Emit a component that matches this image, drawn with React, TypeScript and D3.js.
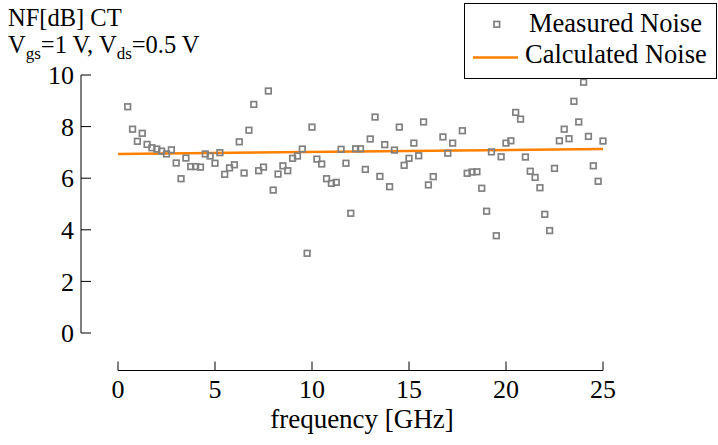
import * as d3 from "d3";

const frequency = [
  0.5, 0.75, 1.0, 1.25, 1.5, 1.75, 2.0, 2.25, 2.5, 2.75, 3.0, 3.25, 3.5, 3.75, 4.0, 4.25,
  4.5, 4.75, 5.0, 5.25, 5.5, 5.75, 6.0, 6.25, 6.5, 6.75, 7.0, 7.25, 7.5, 7.75, 8.0, 8.25,
  8.5, 8.75, 9.0, 9.25, 9.5, 9.75, 10.0, 10.25, 10.5, 10.75, 11.0, 11.25, 11.5, 11.75,
  12.0, 12.25, 12.5, 12.75, 13.0, 13.25, 13.5, 13.75, 14.0, 14.25, 14.5, 14.75, 15.0,
  15.25, 15.5, 15.75, 16.0, 16.25, 16.75, 17.0, 17.25, 17.75, 18.0, 18.25, 18.5, 18.75,
  19.0, 19.25, 19.5, 19.75, 20.0, 20.25, 20.5, 20.75, 21.0, 21.25, 21.5, 21.75, 22.0,
  22.25, 22.5, 22.75, 23.0, 23.25, 23.5, 23.75, 24.0, 24.25, 24.5, 24.75, 25.0,
];
const measuredNoise = [
  8.77, 7.9, 7.43, 7.74, 7.31, 7.18, 7.13, 7.05, 6.94, 7.1, 6.59, 5.98, 6.78, 6.45, 6.45, 6.43,
  6.94, 6.86, 6.58, 6.99, 6.15, 6.4, 6.52, 7.41, 6.2, 7.86, 8.86, 6.29, 6.43, 9.38, 5.54, 6.16,
  6.48, 6.29, 6.77, 6.86, 7.13, 3.09, 7.98, 6.74, 6.55, 5.98, 5.8, 5.84, 7.12, 6.58,
  4.64, 7.14, 7.14, 6.34, 7.52, 8.37, 6.07, 7.3, 5.67, 7.09, 7.98, 6.5, 6.77,
  7.36, 6.87, 8.18, 5.74, 6.06, 7.6, 6.97, 7.36, 7.84, 6.19, 6.24, 6.25, 5.61,
  4.72, 7.02, 3.77, 6.83, 7.36, 7.45, 8.55, 8.29, 6.82, 6.27, 6.03, 5.63, 4.6,
  3.97, 6.38, 7.45, 7.9, 7.53, 8.98, 8.18, 9.72, 7.62, 6.48, 5.88, 7.44,
];
const calcFrequency = [0, 25];
const calculatedNoise = [6.94, 7.13];

const xTicks = [0, 5, 10, 15, 20, 25];
const yTicks = [0, 2, 4, 6, 8, 10];

const FONT = "Liberation Serif";
const GRAY = "#808080";
const ORANGE = "#ff8000";

export default function App() {
  const x = d3.scaleLinear().domain([0, 25]).range([118, 603]);
  const y = d3.scaleLinear().domain([0, 10]).range([333, 75]);
  const yAxisX = 81;
  const xAxisY = 370.5;

  const points = frequency.map((f, i) => ({ f, v: measuredNoise[i] }));
  const calc = calcFrequency.map((f, i) => ({ f, v: calculatedNoise[i] }));
  const line = d3
    .line<{ f: number; v: number }>()
    .x((d) => x(d.f))
    .y((d) => y(d.v));

  return (
    <svg
      width={718}
      height={445}
      style={{ position: "absolute", left: 0, top: 0, background: "#fff", fontFamily: FONT }}
    >
      <rect width={718} height={445} fill="#fff" />

      {/* title */}
      <text x={8} y={26} fontSize={24.5}>NF[dB] CT</text>
      <text x={8} y={53} fontSize={24.5}>
        V<tspan fontSize={17} dy={6}>gs</tspan>
        <tspan dy={-6}>=1 V, V</tspan>
        <tspan fontSize={17} dy={6}>ds</tspan>
        <tspan dy={-6}>=0.5 V</tspan>
      </text>

      {/* y axis */}
      <g stroke="#000" strokeWidth={1}>
        <line x1={yAxisX} x2={yAxisX} y1={y(10)} y2={y(0)} />
        {yTicks.map((t) => (
          <line key={t} x1={yAxisX} x2={yAxisX + 10} y1={y(t)} y2={y(t)} />
        ))}
      </g>
      {yTicks.map((t) => (
        <text key={t} x={yAxisX - 7} y={y(t)} dy="0.35em" textAnchor="end" fontSize={26}>
          {t}
        </text>
      ))}

      {/* x axis */}
      <g stroke="#000" strokeWidth={1}>
        <line x1={x(0)} x2={x(25)} y1={xAxisY} y2={xAxisY} />
        {xTicks.map((t) => (
          <line key={t} x1={x(t)} x2={x(t)} y1={xAxisY} y2={xAxisY - 9} />
        ))}
      </g>
      {xTicks.map((t) => (
        <text key={t} x={x(t)} y={398} textAnchor="middle" fontSize={26}>
          {t}
        </text>
      ))}
      <text x={362} y={428} textAnchor="middle" fontSize={27}>
        frequency [GHz]
      </text>

      {/* calculated noise */}
      <path d={line(calc) ?? ""} fill="none" stroke={ORANGE} strokeWidth={2.4} />

      {/* measured noise */}
      {points.map((d, i) => (
        <rect
          key={i}
          x={x(d.f) - 2.8}
          y={y(d.v) - 2.8}
          width={5.6}
          height={5.6}
          fill="none"
          stroke={GRAY}
          strokeWidth={1.7}
        />
      ))}

      {/* legend */}
      <rect x={464.5} y={3.5} width={252} height={75} fill="#fff" stroke="#000" strokeWidth={1} />
      <rect x={494} y={21.5} width={5.6} height={5.6} fill="none" stroke={GRAY} strokeWidth={1.7} />
      <text x={529} y={32} fontSize={26.5}>Measured Noise</text>
      <line x1={473} x2={518} y1={57.5} y2={57.5} stroke={ORANGE} strokeWidth={2.4} />
      <text x={525} y={63} fontSize={26.5}>Calculated Noise</text>
    </svg>
  );
}
